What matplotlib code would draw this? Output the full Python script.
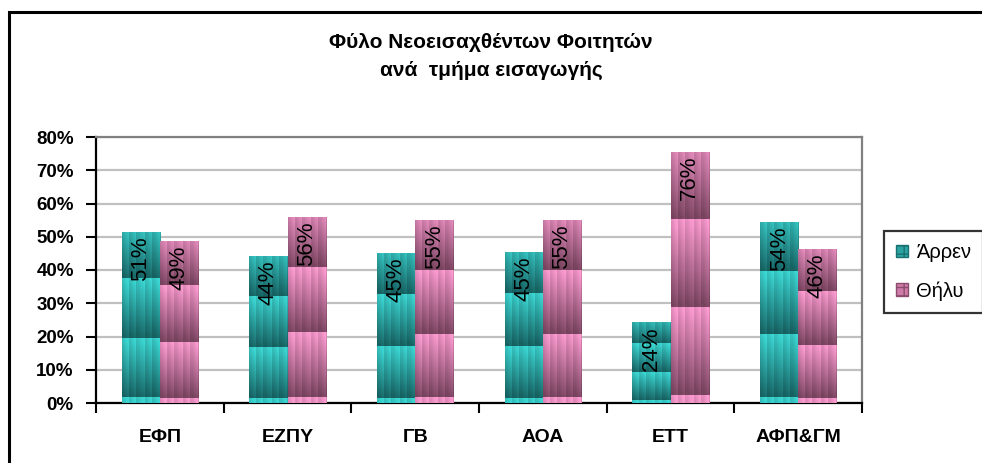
import numpy as np
import matplotlib
matplotlib.use('Agg')
import matplotlib.pyplot as plt
from matplotlib.patches import Rectangle, Patch
from matplotlib.ticker import FixedLocator, NullFormatter, FixedFormatter

# Data
departments = ['ΕΦΠ', 'ΕΖΠΥ', 'ΓΒ', 'ΑΟΑ', 'ΕΤΤ', 'ΑΦΠ&ΓΜ']
arren = [51.4, 44.2, 45.1, 45.4, 24.4, 54.4]
thilu = [48.6, 55.8, 54.9, 55.0, 75.6, 46.3]
series_names = ['Άρρεν', 'Θήλυ']
yticks = [0, 10, 20, 30, 40, 50, 60, 70, 80]

plt.rcParams['font.family'] = ['Liberation Sans', 'DejaVu Sans']

TEAL_LIGHT = np.array([0x3c, 0xd6, 0xd2]) / 255
TEAL_DARK = np.array([0x16, 0x60, 0x60]) / 255
PINK_LIGHT = np.array([0xfa, 0x9a, 0xcf]) / 255
PINK_DARK = np.array([0x76, 0x42, 0x5d]) / 255


# stacked picture-like fill: tiles dark at bottom, light at top, thin vertical stripes
def texture(light, dark, rows=240, cols=38):
    t = np.linspace(0, 1, rows)[:, None]
    p = ((t - 0.27) / 0.35) % 1.0
    s = (np.arange(cols)[None, :] / cols * 5) % 1.0
    stripe = 0.35 * (0.5 - s) + np.where(s > 0.8, 0.3, 0.0)
    mix = np.clip(p * 0.95 + stripe * (1 - p * 0.4), 0, 1)
    img = light[None, None, :] * (1 - mix[..., None]) + dark[None, None, :] * mix[..., None]
    return np.clip(img, 0, 1)


fig = plt.figure(figsize=(9.82, 4.63), dpi=100)
W, H = 982, 463
ax = fig.add_axes([96 / W, 1 - 403 / H, (862 - 96) / W, (403 - 137) / H])

x = np.arange(len(departments))
bw = 0.298
bars_a = ax.bar(x - bw / 2, arren, bw, color='#2aa3a2', zorder=2)
bars_t = ax.bar(x + bw / 2, thilu, bw, color='#c06e9a', zorder=2)

for bars, light, dark in ((bars_a, TEAL_LIGHT, TEAL_DARK), (bars_t, PINK_LIGHT, PINK_DARK)):
    for rect in bars:
        x0, h, w = rect.get_x(), rect.get_height(), rect.get_width()
        im = ax.imshow(texture(light, dark), extent=(x0, x0 + w, 0, h), aspect='auto',
                       origin='upper', zorder=3, interpolation='nearest')
        im.set_clip_path(rect)
        ax.text(x0 + w / 2, h - 1.3, f'{round(h)}%', rotation=90, ha='center', va='top',
                fontsize=16, color='black', zorder=5)

ax.set_xlim(-0.5, len(departments) - 0.5)
ax.set_ylim(0, 80)

# axes styling
ax.set_yticks(yticks)
ax.set_yticklabels([f'{v}%' for v in yticks], fontsize=13.5, fontweight='bold')
ax.yaxis.grid(True, color='#c0c0c0', linewidth=1.6, zorder=0)
ax.set_axisbelow(True)
ax.tick_params(axis='y', direction='out', length=7, width=1.5, pad=9)

ax.xaxis.set_major_locator(FixedLocator(np.arange(-0.5, len(departments), 1.0)))
ax.xaxis.set_major_formatter(NullFormatter())
ax.xaxis.set_minor_locator(FixedLocator(x))
ax.xaxis.set_minor_formatter(FixedFormatter(departments))
ax.tick_params(axis='x', which='major', direction='out', length=7, width=1.5)
ax.tick_params(axis='x', which='minor', length=0, pad=19, labelsize=14)
for lbl in ax.get_xticklabels(minor=True):
    lbl.set_fontweight('bold')

for side in ('left', 'bottom'):
    ax.spines[side].set_color('black')
    ax.spines[side].set_linewidth(1.6)
for side in ('top', 'right'):
    ax.spines[side].set_color('#808080')
    ax.spines[side].set_linewidth(1.6)

fig.text(491 / W, 1 - 42 / H, 'Φύλο Νεοεισαχθέντων Φοιτητών', ha='center', va='center',
         fontsize=15, fontweight='bold')
fig.text(491 / W, 1 - 70 / H, 'ανά  τμήμα εισαγωγής', ha='center', va='center',
         fontsize=15, fontweight='bold')

handles = [Patch(facecolor='#2aa3a2', edgecolor='#1a7070', hatch='++'),
           Patch(facecolor='#d07aaa', edgecolor='#8a4d6d', hatch='++')]
leg = fig.legend(handles, series_names, loc='upper left', bbox_to_anchor=(884 / W, 1 - 231 / H),
                 fontsize=14.5, frameon=True, fancybox=False, handlelength=0.6, handleheight=0.6,
                 handletextpad=0.4, labelspacing=0.95, borderpad=0.6, borderaxespad=0)
leg.get_frame().set_edgecolor('black')
leg.get_frame().set_linewidth(1.6)

# outer chart border (cropped at right and bottom in the reference)
fig.patches.append(Rectangle((9 / W, -0.05), 1.1, 1 - 12.5 / H + 0.05, transform=fig.transFigure,
                             fill=False, edgecolor='black', linewidth=2.2))

fig.savefig('out.png', dpi=100)
